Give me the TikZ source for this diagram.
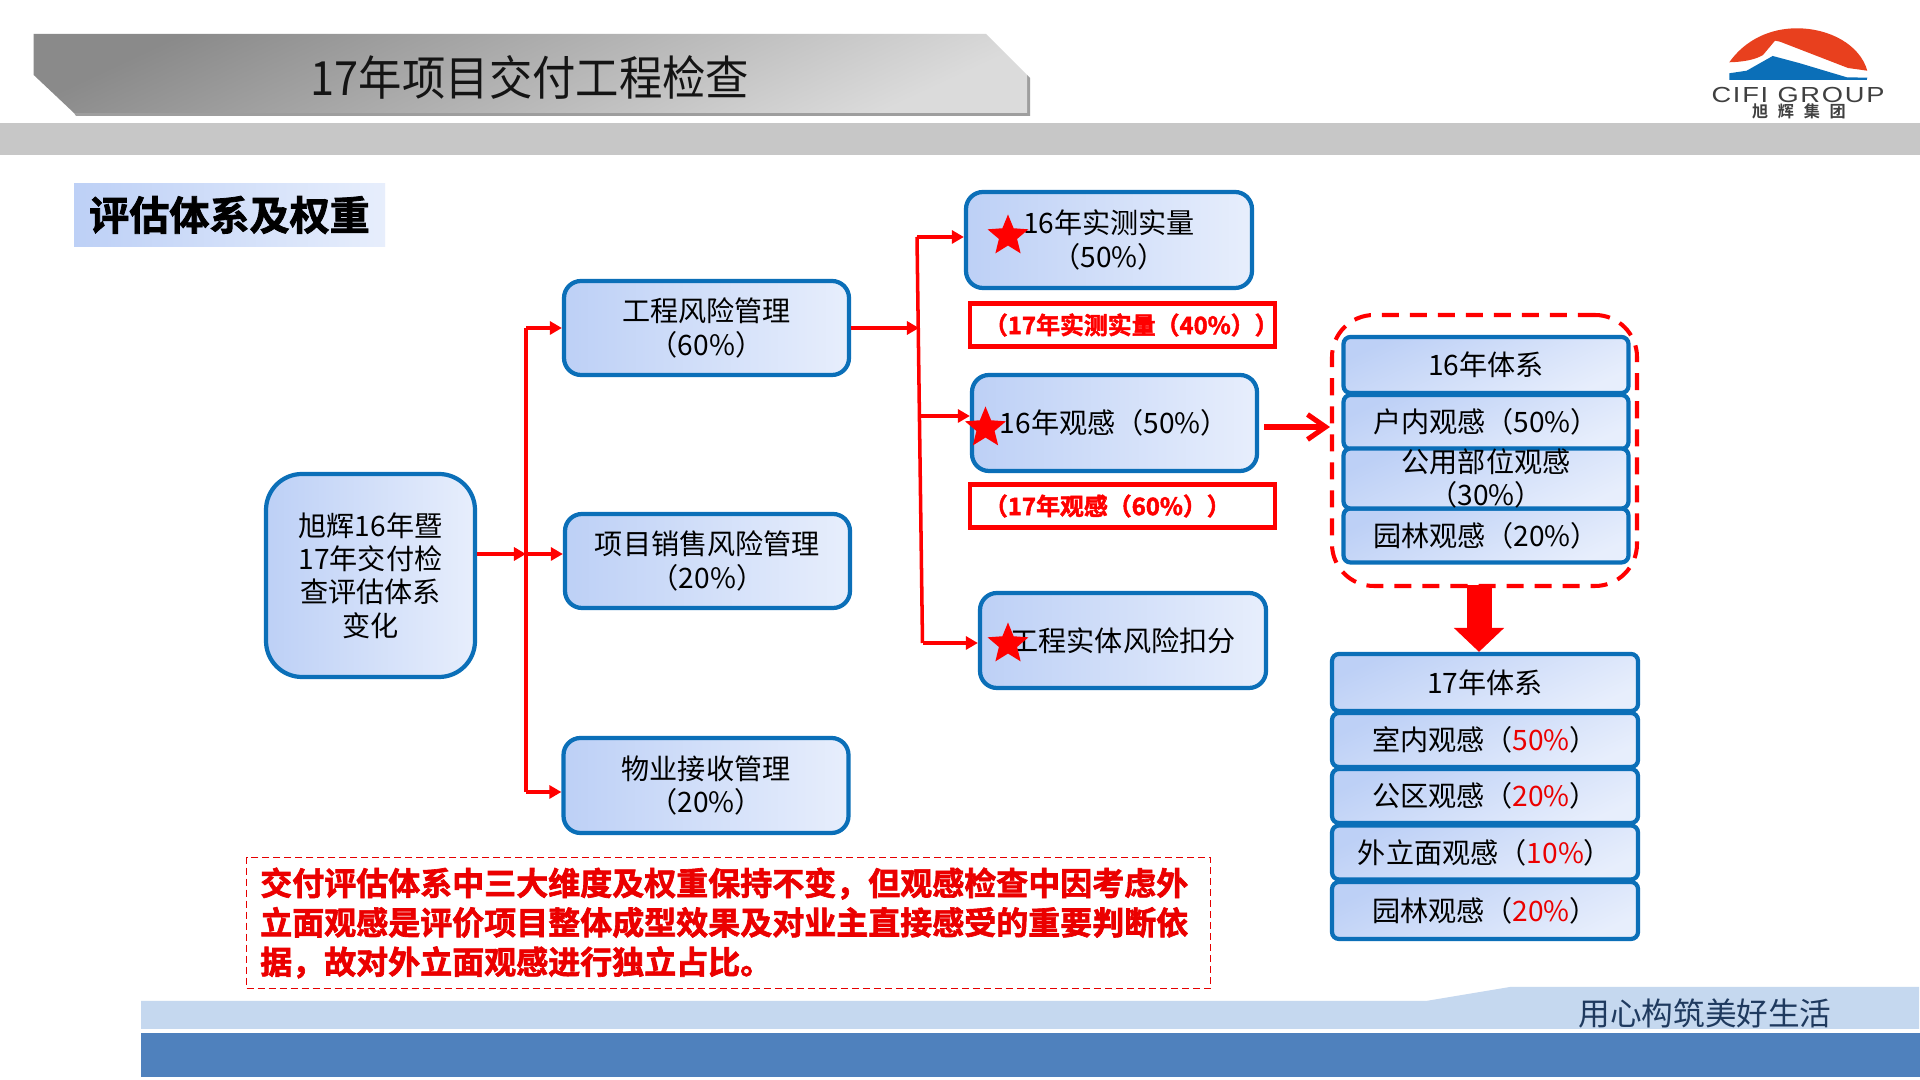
\documentclass[tikz,border=0pt]{standalone}
\usepackage{fontspec}
\setmainfont{Noto Sans CJK SC}
\newfontfamily\heavy[UprightFont=* Bold,FakeBold=2]{Noto Sans CJK SC}
\newfontfamily\titlefont[FakeStretch=.92]{Noto Sans CJK SC}
\newfontfamily\logofont[LetterSpace=8,FakeStretch=1.25]{Liberation Sans}
\newfontfamily\logocjk[UprightFont=* Bold,LetterSpace=60]{Noto Sans CJK SC}
\usetikzlibrary{arrows.meta,shapes.geometric}
\definecolor{bluel}{HTML}{0B6FB8}
\definecolor{redl}{HTML}{FF0000}
\definecolor{gradA}{HTML}{BDD0F6}
\definecolor{gradB}{HTML}{E7EEFC}
\definecolor{logored}{HTML}{E8401E}
\definecolor{footlight}{HTML}{C5D8EF}
\definecolor{footdark}{HTML}{4F81BD}
\definecolor{slogancol}{HTML}{1F3A5F}
\newcommand{\pct}[1]{{\color{redl!92!black}#1}}
\tikzset{
  sz/.style 2 args={minimum width=#1*.01cm,minimum height=#2*.01cm},
  boxbase/.style={draw=bluel,line width=1.2pt,inner sep=0pt,align=center,text=black,
    font=\fontsize{8pt}{9.5pt}\selectfont},
  flowbox/.style={boxbase,rounded corners=.17cm,left color=gradA,right color=gradB},
  bigbox/.style={boxbase,rounded corners=.36cm,left color=gradA,right color=gradB},
  stackbox/.style={boxbase,rounded corners=.07cm,top color=gradA,bottom color=gradB,shading angle=25},
  redbox/.style={draw=redl,line width=1.15pt,inner sep=0pt,text width=3.05cm,align=left,text=redl,
    font=\heavy\fontsize{6.8pt}{8pt}\selectfont},
  wire/.style={draw=redl,line width=1pt},
  wirehead/.style={wire,-{Triangle[length=.12cm,width=.13cm]}},
  starmark/.style={star,star points=5,star point ratio=2.25,fill=redl,inner sep=0pt,minimum size=.43cm},
}
\begin{document}
\begin{tikzpicture}[x=.01cm,y=-.01cm]
\useasboundingbox (0,0) rectangle (1920,1080);
\fill[white] (0,0) rectangle (1920,1080);
% header
\fill[black!38] (76,116) -- (1030,116) -- (1030,78) -- (1027,75) -- (1027,113) -- (74,113) -- cycle;
\shade[top color=black!46,bottom color=black!14,shading angle=25]
  (33.7,34) -- (986,34) -- (1027,75) -- (1027,113) -- (74,113) -- (33.7,75) -- cycle;
\fill[black!22] (0,123) rectangle (1920,155);
\node[font=\titlefont\fontsize{13.4pt}{16pt}\selectfont,text=black!92,inner sep=0pt] (title) at (530,77) {17年项目交付工程检查};
% logo
\fill[logored] (1729.3,62.3) .. controls (1745,40) and (1770,28.3) .. (1796.7,28.3)
  .. controls (1830,28.3) and (1860,45) .. (1867.3,70.7) -- (1848,68) -- (1780,41.7) -- (1775,40.7)
  -- (1763,55) .. controls (1755,60) and (1742,62) .. (1729.3,62.3) -- cycle;
\fill[bluel] (1729.3,73.3) -- (1746.7,70.7) -- (1772.7,56) -- (1800,63.3) -- (1846.7,77.3)
  -- (1867.3,77.7) -- (1866.7,80) -- (1729.3,80) -- cycle;
\node[font=\logofont\fontsize{6.2pt}{7pt}\selectfont,text=black!75,inner sep=0pt] (logoen) at (1798,95.5) {CIFI GROUP};
\node[font=\logocjk\fontsize{4.6pt}{5pt}\selectfont,text=black!75,inner sep=0pt] (logocn) at (1799,111) {旭辉集团};
% section heading
\node[left color=gradA,right color=gradB,sz={311}{63},inner sep=0pt,
  font=\heavy\fontsize{11.4pt}{13pt}\selectfont] (heading) at (229.5,215) {评估体系及权重};
% flow boxes
\node[bigbox,sz={209}{203}] (root) at (370.5,575.5) {旭辉16年暨\\17年交付检\\查评估体系\\变化};
\node[flowbox,sz={285}{94}] (risk) at (706.5,328) {工程风险管理\\（60\%）};
\node[flowbox,sz={285}{94}] (sales) at (707.5,561) {项目销售风险管理\\（20\%）};
\node[flowbox,sz={285}{95}] (prop) at (706,785.5) {物业接收管理\\（20\%）};
\node[flowbox,sz={286}{96}] (m16) at (1109,240) {16年实测实量\\（50\%）};
\node[flowbox,sz={285}{96}] (g16) at (1114.5,423) {16年观感（50\%）};
\node[flowbox,sz={286}{95}] (eng) at (1123,640.5) {工程实体风险扣分};
% red boxes
\node[redbox,sz={305}{43}] (r17a) at (1122.5,325) {\hspace*{.14cm}\mbox{（17年实测实量（40\%））}};
\node[redbox,sz={305}{43}] (r17b) at (1122.5,506) {\hspace*{.14cm}\mbox{（17年观感（60\%））}};
% connectors
\coordinate (j1) at (526,328);
\coordinate (j2) at (526,554);
\coordinate (j3) at (526,792);
\coordinate (k1) at (917,237);
\coordinate (k2) at (920.5,416);
\coordinate (k0) at (919,328);
\coordinate (k3) at (922.5,643);
\draw[wirehead] (root.east |- j2) -- (j2);
\draw[wire] (j1) -- (j3);
\draw[wirehead] (j1) -- (risk.west |- j1);
\draw[wirehead] (j2) -- (sales.west |- j2);
\draw[wirehead] (j3) -- (prop.west |- j3);
\draw[wirehead] (risk.east |- k0) -- (k0);
\draw[wire] (k1) -- (k3);
\draw[wirehead] (k1) -- (m16.west |- k1);
\draw[wirehead] (k2) -- (g16.west |- k2);
\draw[wirehead] (k3) -- (eng.west |- k3);
% stars
\node[starmark] (s1) at (1008,236) {};
\node[starmark] (s2) at (985.5,428) {};
\node[starmark] (s3) at (1008,644) {};
% 16 stack
\node[draw=redl,line width=1.15pt,rounded corners=.42cm,dash pattern=on .17cm off .11cm,
  sz={305}{271},inner sep=0pt] (dash) at (1484.5,450.5) {};
\node[stackbox,sz={285}{56}] (a0) at (1486,365) {16年体系};
\node[stackbox,sz={285}{54}] (a1) at (1486,422) {户内观感（50\%）};
\node[stackbox,sz={285}{54}] (a3) at (1486,535.5) {园林观感（20\%）};
\node[stackbox,sz={285}{54}] (a2) at (1486,478.5) {公用部位观感\\（30\%）};
% 17 stack
\node[stackbox,sz={306}{57}] (b0) at (1485,682.5) {17年体系};
\node[stackbox,sz={306}{54}] (b1) at (1485,740) {室内观感（\pct{50\%}）};
\node[stackbox,sz={306}{54}] (b2) at (1485,796) {公区观感（\pct{20\%}）};
\node[stackbox,sz={306}{54}] (b3) at (1485,852.5) {外立面观感（\pct{10\%}）};
\node[stackbox,sz={306}{57}] (b4) at (1485,910.5) {园林观感（\pct{20\%}）};
% thick arrows
\draw[redl,line width=1.45pt,-{Straight Barb[length=.18cm,width=.25cm]}] (g16.east |- 0,427) ++(5,0) -- (dash.west |- 0,427);
\draw[redl,line width=.25cm,-{Triangle[length=.24cm,width=.49cm]}] (1479,585) -- (b0.north -| 1479,0);
% note
\node[draw=redl!90!black,line width=.45pt,dash pattern=on .07cm off .04cm,inner sep=0pt,sz={964}{131},
  text width=9.36cm,align=left,text=redl!92!black,font=\heavy\fontsize{9.1pt}{11.2pt}\selectfont] (note) at (728.5,923)
  {交付评估体系中三大维度及权重保持不变，但观感检查中因考虑外\\立面观感是评价项目整体成型效果及对业主直接感受的重要判断依\\据，故对外立面观感进行独立占比。};
% footer
\fill[footlight] (141,1001) -- (1426,1001) -- (1510,987) -- (1919,987) -- (1919,1029) -- (141,1029) -- cycle;
\fill[footdark] (141,1033) rectangle (1920,1077);
\node[font=\fontsize{9pt}{10pt}\selectfont,text=slogancol,inner sep=0pt] (slogan) at (1705,1013) {用心构筑美好生活};
\end{tikzpicture}
\end{document}
